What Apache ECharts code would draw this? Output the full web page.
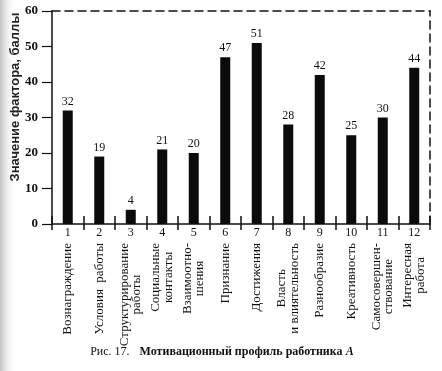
<!DOCTYPE html>
<html><head><meta charset="utf-8">
<script src="https://cdn.jsdelivr.net/npm/echarts@6/dist/echarts.min.js"></script>
<style>html,body{margin:0;padding:0;background:#fff}#c{width:442px;height:371px}</style>
</head><body><div id="c"></div>
<script>
const numbers = ['1','2','3','4','5','6','7','8','9','10','11','12'];
const factorNames = [
  'Вознаграждение',
  'Условия  работы',
  'Структурирование\nработы',
  'Социальные\nконтакты',
  'Взаимоотно-\nшения',
  'Признание',
  'Достижения',
  'Власть\nи влиятельность',
  'Разнообразие',
  'Креативность',
  'Самосовершен-\nствование',
  'Интересная\nработа'
];
const scores = [32, 19, 4, 21, 20, 47, 51, 28, 42, 25, 30, 44];
const yTicks = [0, 10, 20, 30, 40, 50, 60];
const yTitle = 'Значение фактора, баллы';
const captionPrefix = 'Рис. 17.';
const captionMain = 'Мотивационный профиль работника';
const captionLetter = 'А';

const SERIF = '"Liberation Serif", "DejaVu Serif", serif';
const ink = '#111';
const chart = echarts.init(document.getElementById('c'));
chart.setOption({
  backgroundColor: '#fff',
  animation: false,
  grid: { left: 52, right: 12, top: 11, bottom: 147, containLabel: false },
  xAxis: [
    { type: 'category', data: numbers, position: 'bottom',
      axisLine: { lineStyle: { color: ink, width: 1.5 } },
      axisTick: { show: true, length: 6, lineStyle: { color: ink, width: 1.5 } },
      axisLabel: { color: ink, fontFamily: SERIF, fontSize: 12, margin: 3 } },
    { type: 'category', data: factorNames, position: 'bottom',
      axisLine: { show: false },
      axisTick: { show: true, inside: true, length: 8, lineStyle: { color: ink, width: 1.5 } },
      axisLabel: { rotate: 90, margin: 19, interval: 0, color: ink, fontFamily: SERIF, fontSize: 13, lineHeight: 12.5,
        formatter: v => v.split('\n').map(s => '{c|' + s + '}').join('\n'),
        rich: { c: { align: 'center', fontFamily: SERIF, fontSize: 13, color: ink, lineHeight: 12.5 } } } },
    { type: 'category', data: numbers, position: 'top',
      axisLine: { lineStyle: { color: ink, width: 1.5, type: [8, 5] } },
      axisTick: { show: false }, axisLabel: { show: false } }
  ],
  yAxis: [
    { type: 'value', min: yTicks[0], max: yTicks[yTicks.length - 1], interval: 10, position: 'left',
      axisLine: { show: true, lineStyle: { color: ink, width: 1.5 } },
      axisTick: { show: true, length: 10, lineStyle: { color: ink, width: 1.2 } },
      axisLabel: { color: ink, fontFamily: SERIF, fontSize: 13, fontWeight: 'bold', margin: 14 },
      splitLine: { show: false } },
    { type: 'value', min: yTicks[0], max: yTicks[yTicks.length - 1], interval: 10, position: 'right',
      axisLine: { show: true, lineStyle: { color: ink, width: 1.5, type: [8, 5] } },
      axisTick: { show: false }, axisLabel: { show: false }, splitLine: { show: false } }
  ],
  series: [{
    type: 'bar', xAxisIndex: 0, yAxisIndex: 0, data: scores, barWidth: 10,
    itemStyle: { color: '#0b0b0b' },
    label: { show: true, position: 'top', distance: 3, color: ink, fontFamily: SERIF, fontSize: 12 }
  }],
  graphic: [
    { type: 'rect', left: 0, top: 0, shape: { width: 16, height: 371 }, silent: true, z: -10,
      style: { fill: new echarts.graphic.LinearGradient(0, 0, 1, 0, [
        { offset: 0, color: 'rgba(140,140,140,0.55)' }, { offset: 1, color: 'rgba(255,255,255,0)' }]) } },
    { type: 'text', x: 15, y: 97, rotation: Math.PI / 2, silent: true,
      style: { text: yTitle, fill: '#222', font: 'bold 13px "Liberation Sans", Arial, sans-serif',
        textAlign: 'center', textVerticalAlign: 'middle' } },
    { type: 'text', x: 222, y: 352, silent: true,
      style: { text: '{r|' + captionPrefix + '}   {b|' + captionMain + '} {i|' + captionLetter + '}',
        textAlign: 'center', textVerticalAlign: 'middle',
        rich: {
          r: { fontFamily: SERIF, fontSize: 12, fill: ink },
          b: { fontFamily: SERIF, fontSize: 12, fontWeight: 'bold', fill: ink },
          i: { fontFamily: SERIF, fontSize: 12, fontWeight: 'bold', fontStyle: 'italic', fill: ink }
        } } }
  ]
});
</script></body></html>
